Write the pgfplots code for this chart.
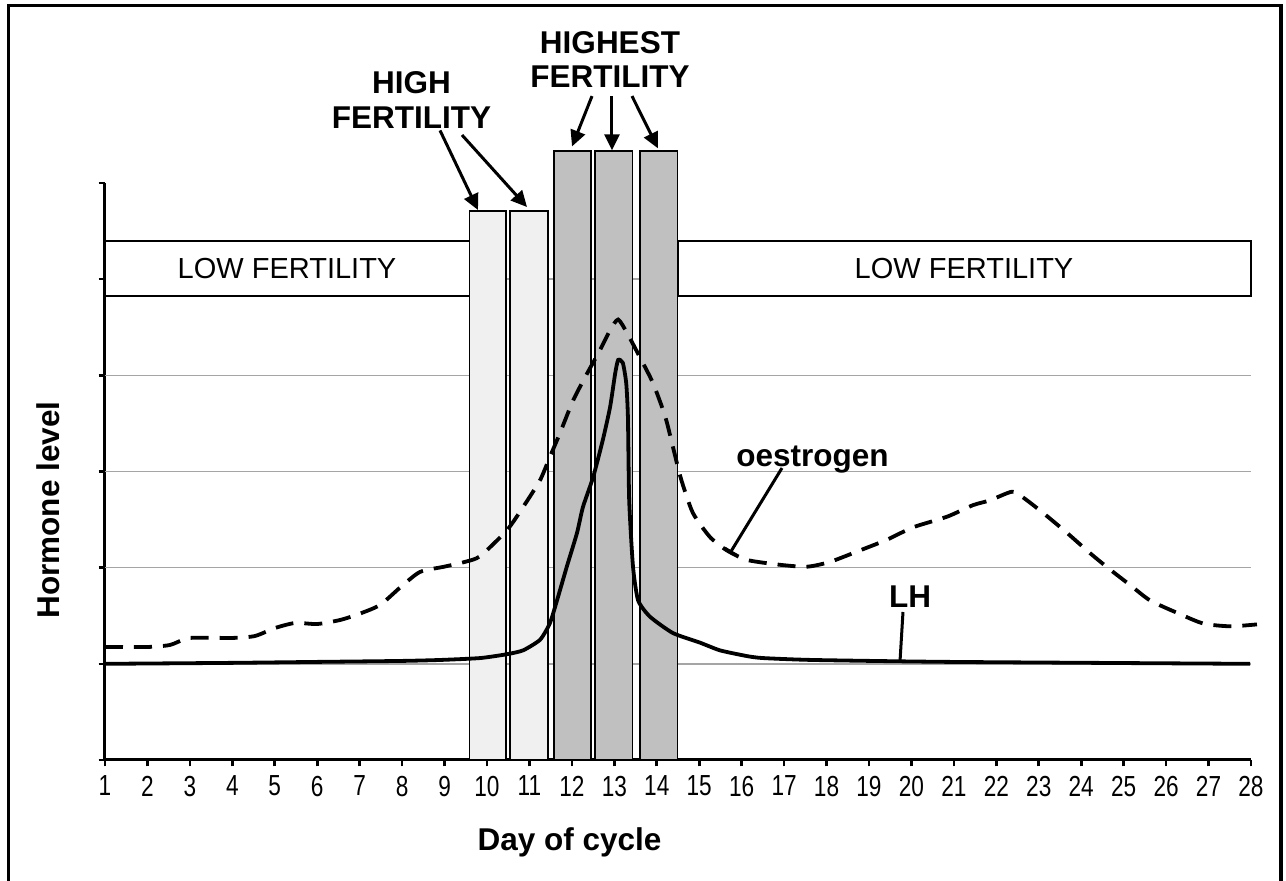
\documentclass[border=0pt]{standalone}
\usepackage{fontspec}
\setmainfont{Liberation Sans}
\newfontfamily\narrowsans[FakeStretch=0.78]{Liberation Sans}
\usepackage{pgfplots}
\pgfplotsset{compat=1.18}
\usetikzlibrary{arrows.meta}
\definecolor{lightbar}{RGB}{240,240,240}
\definecolor{darkbar}{RGB}{192,192,192}
\definecolor{gridgray}{RGB}{165,165,165}
\begin{document}
\begin{tikzpicture}
\path[use as bounding box] (-52.5pt,-60.5pt) rectangle (590.5pt,380pt);
\begin{axis}[
  at={(0pt,0pt)}, anchor=south west,
  scale only axis, width=573pt, height=288.5pt,
  xmin=1, xmax=28, ymin=0, ymax=6,
  axis x line=bottom, axis y line=left,
  axis line style={-, line width=1.5pt},
  every outer x axis line/.append style={-},
  every outer y axis line/.append style={-},
  xtick={1,...,28},
  ytick={0,...,6}, yticklabels={},
  tick align=outside, major tick length=3.2pt,
  tick style={line width=1.3pt, black},
  extra y ticks={1,2,3,4,5}, extra y tick labels={},
  extra y tick style={grid=major, major tick length=0pt},
  major grid style={draw=gridgray, line width=0.75pt},
  /pgf/number format/assume math mode=true,
  xticklabel style={font=\narrowsans\fontsize{14.5}{15}\selectfont, inner sep=1pt, yshift=-3.5pt},
  clip=false,
]
% LOW FERTILITY boxes
\addplot[draw=black, line width=1pt, fill=white] coordinates {(1,4.825) (9.6,4.825) (9.6,5.397) (1,5.397)} --cycle;
\addplot[draw=black, line width=1pt, fill=white] coordinates {(14.5,4.825) (28,4.825) (28,5.397) (14.5,5.397)} --cycle;
% high fertility bars
\addplot[draw=black, line width=0.9pt, fill=lightbar] coordinates {(9.59,0) (10.45,0) (10.45,5.709) (9.59,5.709)} --cycle;
\addplot[draw=black, line width=0.9pt, fill=lightbar] coordinates {(10.55,0) (11.43,0) (11.43,5.709) (10.55,5.709)} --cycle;
% highest fertility bars
\addplot[draw=black, line width=0.9pt, fill=darkbar] coordinates {(11.58,0) (12.45,0) (12.45,6.33) (11.58,6.33)} --cycle;
\addplot[draw=black, line width=0.9pt, fill=darkbar] coordinates {(12.54,0) (13.43,0) (13.43,6.33) (12.54,6.33)} --cycle;
\addplot[draw=black, line width=0.9pt, fill=darkbar] coordinates {(13.61,0) (14.49,0) (14.49,6.33) (13.61,6.33)} --cycle;
% oestrogen
\addplot[black, line width=1.9pt, dash pattern=on 9pt off 5.5pt, smooth, tension=0.4] coordinates {
(1,1.175) (1.99,1.175) (2.53,1.196) (3.00,1.269) (3.99,1.269) (4.53,1.289) (5.01,1.373)
(5.48,1.425) (6.00,1.414) (6.54,1.456) (6.98,1.518) (7.48,1.612) (7.97,1.80) (8.42,1.955)
(8.99,2.01) (9.48,2.06) (9.84,2.12) (10.47,2.39) (10.85,2.63) (11.25,2.91) (11.48,3.15)
(11.72,3.40) (12.03,3.74) (12.36,4.02) (12.66,4.26) (12.90,4.47) (13.09,4.58) (13.30,4.44)
(13.60,4.19) (13.91,3.92) (14.20,3.57) (14.40,3.22) (14.58,2.91) (14.85,2.57) (15.25,2.32)
(15.65,2.18) (16.13,2.08) (16.90,2.03) (17.54,2.01) (18.08,2.06) (18.79,2.18) (19.42,2.29)
(20.04,2.42) (20.84,2.53) (21.45,2.65) (21.85,2.70) (22.37,2.79) (22.63,2.73) (23.10,2.57)
(23.67,2.36) (24.21,2.15) (24.68,1.98) (25.15,1.82) (25.62,1.66) (26.26,1.53) (26.87,1.42)
(27.51,1.39) (28.14,1.41)};
% LH
\addplot[black, line width=1.9pt, smooth, tension=0.35] coordinates {
(1,1.0) (3.99,1.01) (6.0,1.02) (7.97,1.03) (8.89,1.04) (9.84,1.06) (10.47,1.10) (10.85,1.14)
(11.25,1.25) (11.48,1.42) (11.65,1.66) (11.88,2.01) (12.12,2.36) (12.26,2.63) (12.50,2.94)
(12.73,3.33) (12.90,3.67) (13.02,4.02) (13.09,4.16) (13.20,4.13) (13.28,3.92) (13.32,3.57)
(13.35,2.70) (13.44,2.01) (13.56,1.66) (13.84,1.49) (14.38,1.32) (15.02,1.22) (15.49,1.14)
(16.13,1.08) (16.50,1.06) (17.68,1.04) (20.91,1.02) (27.98,1.0)};
% texts
\node[font=\fontsize{14.5}{16}\selectfont] at (axis cs:5.288,5.11) {LOW FERTILITY};
\node[font=\fontsize{14.5}{16}\selectfont] at (axis cs:21.238,5.11) {LOW FERTILITY};
\node[font=\bfseries\fontsize{15.75}{17.5}\selectfont, align=center] at (axis cs:8.22,6.868) {HIGH\\FERTILITY};
\node[font=\bfseries\fontsize{15.75}{17}\selectfont, align=center] at (axis cs:12.898,7.289) {HIGHEST\\FERTILITY};
\draw[line width=1.5pt, -{Triangle[length=8pt,width=7.5pt]}] (axis cs:8.893,6.547) -- (axis cs:9.788,5.719);
\draw[line width=1.5pt, -{Triangle[length=8pt,width=7.5pt]}] (axis cs:9.411,6.499) -- (axis cs:10.943,5.750);
\draw[line width=1.5pt, -{Triangle[length=8pt,width=7.5pt]}] (axis cs:12.474,6.904) -- (axis cs:12.003,6.38);
\draw[line width=1.5pt, -{Triangle[length=8pt,width=7.5pt]}] (axis cs:12.945,6.904) -- (axis cs:12.945,6.34);
\draw[line width=1.5pt, -{Triangle[length=8pt,width=7.5pt]}] (axis cs:13.416,6.904) -- (axis cs:14.029,6.36);
\node[font=\bfseries\fontsize{15.75}{17}\selectfont, anchor=base] at (axis cs:17.67,3.057) {oestrogen};
\draw[line width=1.5pt, -{Bar[width=7pt]}] (axis cs:16.95,3.036) -- (axis cs:15.725,2.152);
\node[font=\bfseries\fontsize{15.75}{17}\selectfont, anchor=base] at (axis cs:19.966,1.581) {LH};
\draw[line width=1.5pt] (axis cs:19.801,1.539) -- (axis cs:19.73,1.02);
\node[font=\bfseries\fontsize{15.75}{17}\selectfont, anchor=base] at (axis cs:11.944,-0.946) {Day of cycle};
\node[font=\bfseries\fontsize{15.75}{17}\selectfont, rotate=90] at (axis cs:-0.331,2.599) {Hormone level};
\end{axis}
\draw[line width=1.6pt] (-48.35pt,-62pt) -- (-48.35pt,377.25pt) -- (588pt,377.25pt) -- (588pt,-62pt);
\end{tikzpicture}
\end{document}
